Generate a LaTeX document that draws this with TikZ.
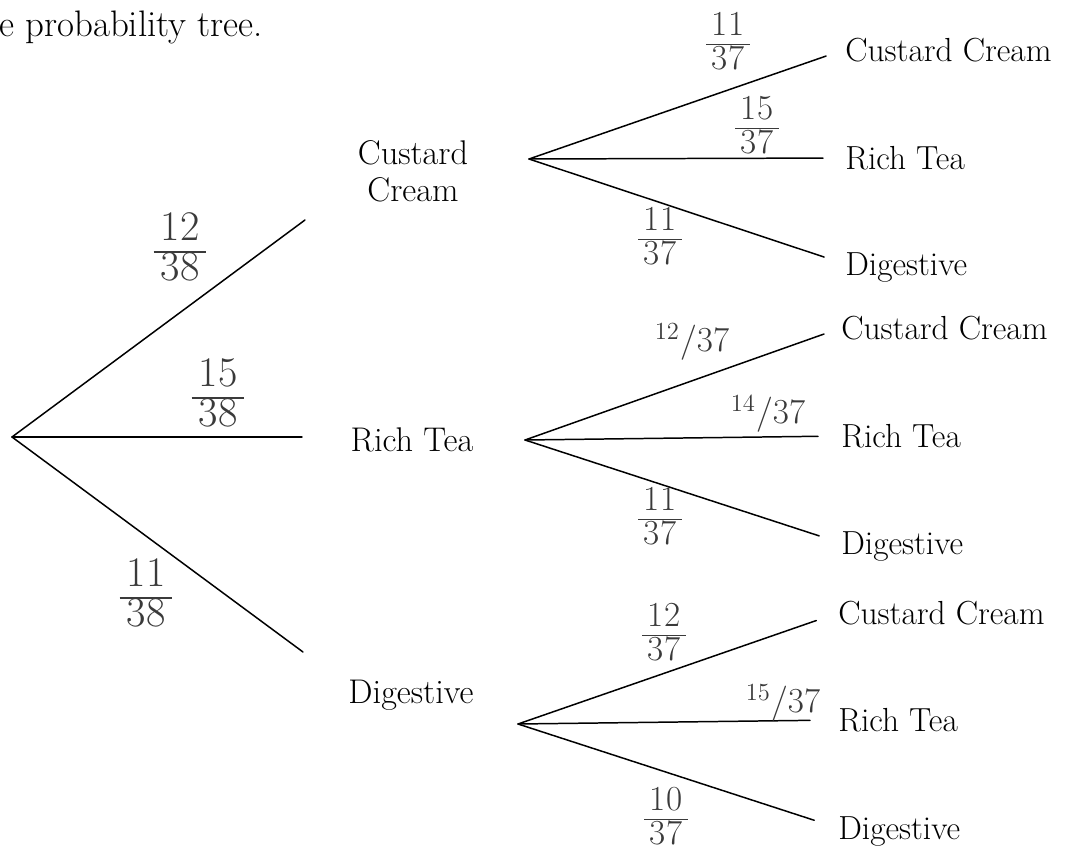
\RequirePackage{fix-cm}
\documentclass[tikz,border=0pt]{standalone}
\usepackage{amsmath}
\usepackage{xcolor}
\usepackage{tikz}
\usetikzlibrary{positioning,calc}
\definecolor{pencil}{HTML}{3A3A3A}
\newcommand{\hfr}[2]{{\setlength{\arrayrulewidth}{0.8pt}\renewcommand{\arraystretch}{1}%
  \begin{tabular}{@{\,}c@{\,}}#1\\\hline #2\end{tabular}}}

\begin{document}
\begin{tikzpicture}[x=0.02cm,y=-0.02cm,
  branch/.style={line width=0.85pt,line cap=round},
  mid/.style={align=center,inner sep=0pt,text depth=0pt,font=\fontsize{19.5}{21}\selectfont},
  leaf/.style={anchor=west,inner sep=0pt,text depth=0pt,font=\fontsize{19}{21}\selectfont},
  prob/.style={inner sep=0pt,text=pencil,font=\fontsize{24}{20}\selectfont},
  probs/.style={inner sep=0pt,text=pencil,font=\fontsize{20}{17}\selectfont}]
  \useasboundingbox (0,0) rectangle (1069,858);
  \node[anchor=base west,inner sep=0pt,font=\fontsize{21}{25}\selectfont] (title) at (-1,37)
    {e probability tree.};

  \coordinate (root) at (12,437);
  \coordinate (e1) at (305,220);
  \coordinate (e2) at (302,437);
  \coordinate (e3) at (303,652);
  \draw[branch] (root) -- (e1);
  \draw[branch] (root) -- (e2);
  \draw[branch] (root) -- (e3);
  \node[prob] (p1) at (180,252) {\hfr{12}{38}};
  \node[prob] (p2) at (218,398) {\hfr{15}{38}};
  \node[prob] (p3) at (146,598) {\hfr{11}{38}};

  \node[mid] (cc) at (413,171) {Custard\\Cream};
  \node[mid] (rt) at (412,440) {Rich Tea};
  \node[mid] (dg) at (411,692) {Digestive};
  \coordinate (s1) at (529,159);
  \coordinate (s2) at (525,440);
  \coordinate (s3) at (518,724);

  \node[leaf] (cc1) at (845,49.5) {Custard Cream};
  \node[leaf] (rt1) at (845,158) {Rich Tea};
  \node[leaf] (dg1) at (845,264) {Digestive};
  \draw[branch,shorten >=0.4cm] (s1) -- (cc1.west);
  \draw[branch,shorten >=0.44cm] (s1) -- (rt1.west);
  \draw[branch,shorten >=0.44cm] (s1) -- (dg1.west);
  \node[probs] (q11) at (728,45) {\hfr{11}{37}};
  \node[probs] (q12) at (757,129) {\hfr{15}{37}};
  \node[probs] (q13) at (660,240) {\hfr{11}{37}};

  \node[leaf] (cc2) at (841,328) {Custard Cream};
  \node[leaf] (rt2) at (841,436) {Rich Tea};
  \node[leaf] (dg2) at (841,543) {Digestive};
  \draw[branch,shorten >=0.36cm] (s2) -- (cc2.west);
  \draw[branch,shorten >=0.46cm] (s2) -- (rt2.west);
  \draw[branch,shorten >=0.46cm] (s2) -- (dg2.west);
  \node[probs] (q21) at (692,342) {$^{12}/37$};
  \node[probs] (q22) at (768,414) {$^{14}/37$};
  \node[probs] (q23) at (660,520) {\hfr{11}{37}};

  \node[leaf] (cc3) at (838,613) {Custard Cream};
  \node[leaf] (rt3) at (838,720) {Rich Tea};
  \node[leaf] (dg3) at (838,828) {Digestive};
  \draw[branch,shorten >=0.46cm] (s3) -- (cc3.west);
  \draw[branch,shorten >=0.56cm] (s3) -- (rt3.west);
  \draw[branch,shorten >=0.5cm] (s3) -- (dg3.west);
  \node[probs] (q31) at (664,636) {\hfr{12}{37}};
  \node[probs] (q32) at (783,703) {$^{15}/37$};
  \node[probs] (q33) at (666,820) {\hfr{10}{37}};
\end{tikzpicture}
\end{document}
